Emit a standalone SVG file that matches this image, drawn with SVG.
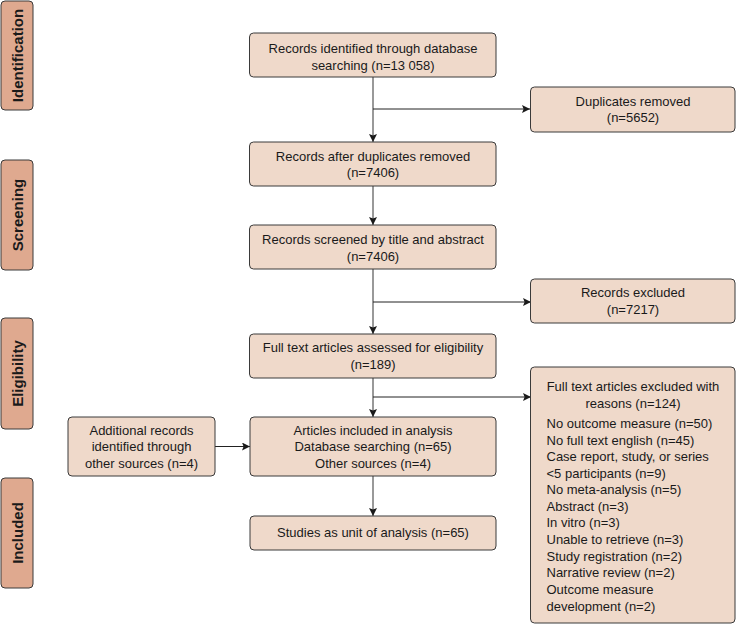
<svg xmlns="http://www.w3.org/2000/svg" width="737" height="625" viewBox="0 0 737 625">
<style>
.side rect{fill:#dfa98f;stroke:#3a3a3a;stroke-width:1}
.side text{font-family:"Liberation Sans",Arial,sans-serif;font-weight:bold;font-size:15px;fill:#1a1a1a;text-anchor:middle}
.node rect{fill:#efd9ca;stroke:#3a3a3a;stroke-width:1}
.node text{font-family:"Liberation Sans",Arial,sans-serif;font-size:13px;fill:#1a1a1a;text-anchor:middle}
.node text.l{text-anchor:start}
.conn line{stroke:#555;stroke-width:1.2;fill:none}
.conn line.h{stroke:#222;stroke-width:1}
</style>
<defs>
<marker id="arr" viewBox="0 0 10 10" refX="10" refY="5" markerWidth="8" markerHeight="8" markerUnits="userSpaceOnUse" orient="auto">
<path d="M0,0 L10,5 L0,10 L2,5 Z" fill="#1a1a1a"/>
</marker>
</defs>
<rect width="737" height="625" fill="#fff"/>

<g id="phase-identification" class="side"><rect x="1" y="1" width="32" height="109" rx="4"/><text transform="translate(23,55.5) rotate(-90)">Identification</text></g>
<g id="phase-screening" class="side"><rect x="1" y="160" width="32" height="110" rx="4"/><text transform="translate(23,215) rotate(-90)">Screening</text></g>
<g id="phase-eligibility" class="side"><rect x="1" y="318" width="32" height="111" rx="4"/><text transform="translate(23,373.5) rotate(-90)">Eligibility</text></g>
<g id="phase-included" class="side"><rect x="1" y="478" width="32" height="110" rx="4"/><text transform="translate(23,533) rotate(-90)">Included</text></g>

<g id="conns" class="conn">
<line x1="373" y1="77" x2="373" y2="142" marker-end="url(#arr)"/>
<line class="h" x1="373" y1="109" x2="530" y2="109" marker-end="url(#arr)"/>
<line x1="373" y1="186" x2="373" y2="225" marker-end="url(#arr)"/>
<line x1="373" y1="269" x2="373" y2="334" marker-end="url(#arr)"/>
<line class="h" x1="373" y1="302" x2="531" y2="302" marker-end="url(#arr)"/>
<line x1="373" y1="378" x2="373" y2="417" marker-end="url(#arr)"/>
<line class="h" x1="373" y1="397" x2="531" y2="397" marker-end="url(#arr)"/>
<line class="h" x1="215" y1="446.5" x2="250" y2="446.5" marker-end="url(#arr)"/>
<line x1="373" y1="476" x2="373" y2="516" marker-end="url(#arr)"/>
</g>

<g id="n-identified" class="node"><rect x="249.5" y="33" width="246.5" height="44" rx="4"/><text x="373" y="52.5">Records identified through database</text><text x="373" y="69.5">searching (n=13 058)</text></g>
<g id="n-duplicates" class="node"><rect x="530.5" y="87" width="204.5" height="45" rx="4"/><text x="633" y="106">Duplicates removed</text><text x="633" y="122">(n=5652)</text></g>
<g id="n-after" class="node"><rect x="249.5" y="142" width="246.5" height="44" rx="4"/><text x="373" y="160.5">Records after duplicates removed</text><text x="373" y="176.5">(n=7406)</text></g>
<g id="n-screened" class="node"><rect x="249.5" y="225" width="246.5" height="44" rx="4"/><text x="373" y="243.5">Records screened by title and abstract</text><text x="373" y="260.5">(n=7406)</text></g>
<g id="n-excluded" class="node"><rect x="530.5" y="279" width="204.5" height="44" rx="4"/><text x="633" y="297">Records excluded</text><text x="633" y="314">(n=7217)</text></g>
<g id="n-fulltext" class="node"><rect x="249.5" y="334" width="246.5" height="44" rx="4"/><text x="373" y="352">Full text articles assessed for eligibility</text><text x="373" y="369">(n=189)</text></g>
<g id="n-ftexcluded" class="node"><rect x="530.5" y="367" width="204.5" height="256" rx="4"/>
<text x="633" y="391">Full text articles excluded with</text>
<text x="633" y="408">reasons (n=124)</text>
<text class="l" x="546.5" y="428">No outcome measure (n=50)</text>
<text class="l" x="546.5" y="444.5">No full text english (n=45)</text>
<text class="l" x="546.5" y="461">Case report, study, or series</text>
<text class="l" x="546.5" y="477.5">&lt;5 participants (n=9)</text>
<text class="l" x="546.5" y="494">No meta-analysis (n=5)</text>
<text class="l" x="546.5" y="510.5">Abstract (n=3)</text>
<text class="l" x="546.5" y="527">In vitro (n=3)</text>
<text class="l" x="546.5" y="544">Unable to retrieve (n=3)</text>
<text class="l" x="546.5" y="560.5">Study registration (n=2)</text>
<text class="l" x="546.5" y="577">Narrative review (n=2)</text>
<text class="l" x="546.5" y="594">Outcome measure</text>
<text class="l" x="546.5" y="610.5">development (n=2)</text>
</g>
<g id="n-additional" class="node"><rect x="68" y="417" width="147" height="59" rx="4"/><text x="141.5" y="434.5">Additional records</text><text x="141.5" y="451">identified through</text><text x="141.5" y="468">other sources (n=4)</text></g>
<g id="n-included" class="node"><rect x="250" y="417" width="246" height="59" rx="4"/><text x="373" y="434.5">Articles included in analysis</text><text x="373" y="451">Database searching (n=65)</text><text x="373" y="468">Other sources (n=4)</text></g>
<g id="n-studies" class="node"><rect x="250" y="516" width="246" height="34" rx="4"/><text x="373" y="537">Studies as unit of analysis (n=65)</text></g>
</svg>
